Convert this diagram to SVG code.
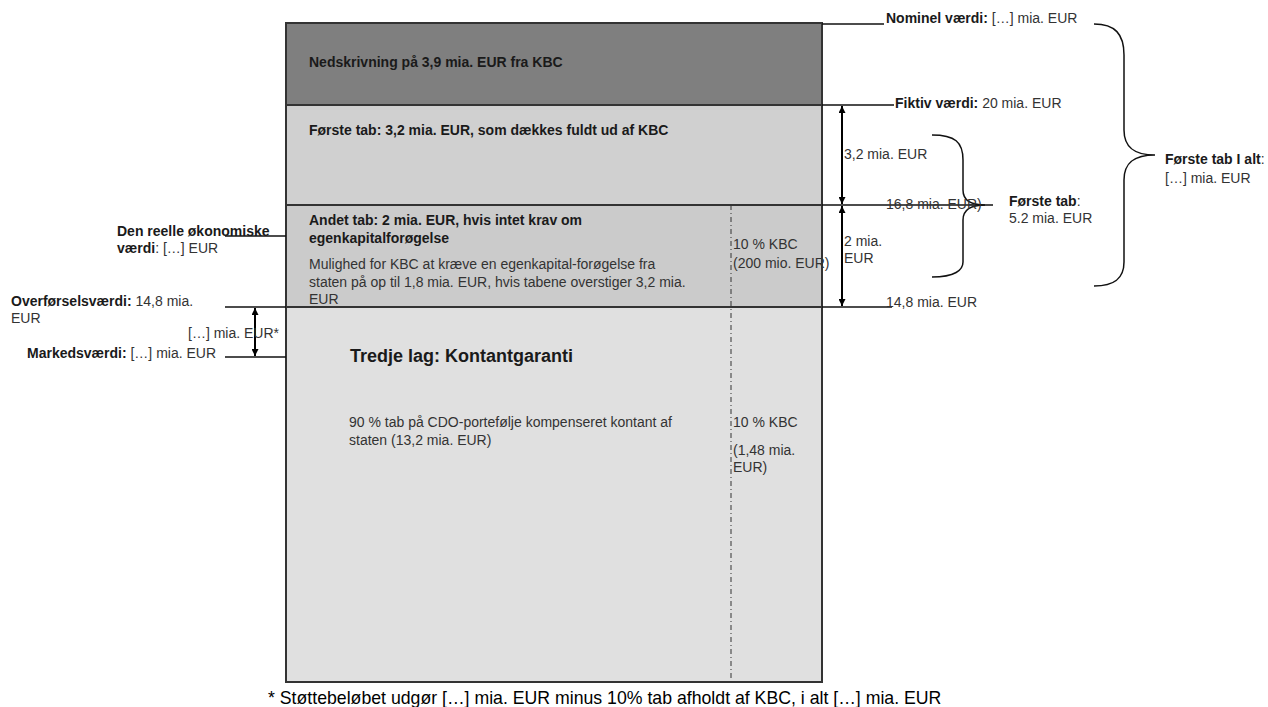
<svg xmlns="http://www.w3.org/2000/svg" width="1268" height="707" viewBox="0 0 1268 707">
<defs>
<style>
text{font-family:"Liberation Sans",Arial,sans-serif;font-size:14px;fill:#1a1a1a}
.b{font-weight:bold}
.n{fill:#333}
.big{font-size:18px;font-weight:bold}
.ln{stroke:#111;stroke-width:1.5;fill:none}
.arr{stroke:#000;stroke-width:2;fill:none;marker-start:url(#ah);marker-end:url(#ah)}
</style>
<marker id="ah" viewBox="0 0 10 10" refX="10" refY="5" markerWidth="7" markerHeight="7" orient="auto-start-reverse" markerUnits="userSpaceOnUse"><path d="M0,0 L10,5 L0,10 z" fill="#000"/></marker>
</defs>
<rect width="1268" height="707" fill="#fff"/>
<g id="layer-nedskrivning">
<rect x="286" y="23" width="536" height="82" fill="#7f7f7f"/>
<text class="b" x="309" y="67">Nedskrivning på 3,9 mia. EUR fra KBC</text>
</g>
<g id="layer-forste">
<rect x="286" y="105" width="536" height="100" fill="#d0d0d0"/>
<text class="b" x="309" y="135">Første tab: 3,2 mia. EUR, som dækkes fuldt ud af KBC</text>
</g>
<g id="layer-andet">
<rect x="286" y="205" width="536" height="102" fill="#cbcbcb"/>
<text class="b" x="309" y="225">Andet tab: 2 mia. EUR, hvis intet krav om</text>
<text class="b" x="309" y="243">egenkapitalforøgelse</text>
<text class="n" x="309" y="269">Mulighed for KBC at kræve en egenkapital-forøgelse fra</text>
<text class="n" x="309" y="287">staten på op til 1,8 mia. EUR, hvis tabene overstiger 3,2 mia.</text>
<text class="n" x="309" y="304">EUR</text>
<text class="n" x="733" y="249">10 % KBC</text>
<text class="n" x="733" y="268">(200 mio. EUR)</text>
</g>
<g id="layer-tredje">
<rect x="286" y="307" width="536" height="375" fill="#e0e0e0"/>
<text class="big" x="350" y="362">Tredje lag: Kontantgaranti</text>
<text class="n" x="349" y="427">90 % tab på CDO-portefølje kompenseret kontant af</text>
<text class="n" x="349" y="445">staten (13,2 mia. EUR)</text>
<text class="n" x="733" y="427">10 % KBC</text>
<text class="n" x="733" y="455">(1,48 mia.</text>
<text class="n" x="733" y="472">EUR)</text>
</g>
<g id="frame">
<rect x="286" y="23" width="536" height="659" fill="none" stroke="#333" stroke-width="2"/>
<line x1="286" y1="105" x2="822" y2="105" stroke="#333" stroke-width="2"/>
<line x1="286" y1="205" x2="822" y2="205" stroke="#333" stroke-width="2"/>
<line x1="286" y1="307" x2="822" y2="307" stroke="#333" stroke-width="2"/>
<line x1="731" y1="205" x2="731" y2="682" stroke="#333" stroke-width="1" stroke-dasharray="5,3,1,3"/>
</g>
<g id="connectors">
<line class="ln" x1="822" y1="24" x2="884" y2="24"/>
<line class="ln" x1="822" y1="105" x2="894" y2="105"/>
<line class="ln" x1="822" y1="205" x2="993" y2="205"/>
<line class="ln" x1="822" y1="307" x2="892" y2="307"/>
<line class="arr" x1="842" y1="106" x2="842" y2="204"/>
<line class="arr" x1="842" y1="206" x2="842" y2="306"/>
<line class="ln" x1="225" y1="236" x2="286" y2="236"/>
<line class="ln" x1="225" y1="307" x2="286" y2="307"/>
<line class="ln" x1="225" y1="357" x2="286" y2="357"/>
<line class="arr" x1="255" y1="308" x2="255" y2="356"/>
<path class="ln" d="M932,135 C955,135 963,142 963,160 L963,190 C963,200 970,205 985,205 C970,205 963,210 963,220 L963,262 C963,270 955,277 932,277"/>
<path class="ln" d="M1094,24 C1115,24 1124,34 1124,55 L1124,130 C1124,148 1135,155 1155,155 C1135,155 1124,162 1124,180 L1124,262 C1124,278 1115,286 1094,286"/>
</g>
<g id="labels-right">
<text x="886" y="23"><tspan class="b">Nominel værdi:</tspan><tspan class="n"> […] mia. EUR</tspan></text>
<text x="895" y="108"><tspan class="b">Fiktiv værdi:</tspan><tspan class="n"> 20 mia. EUR</tspan></text>
<text class="n" x="844" y="159">3,2 mia. EUR</text>
<text class="n" x="886" y="209">16,8 mia. EUR)</text>
<text class="n" x="844" y="246">2 mia.</text>
<text class="n" x="844" y="263">EUR</text>
<text class="n" x="886" y="307">14,8 mia. EUR</text>
<text x="1009" y="206"><tspan class="b">Første tab</tspan><tspan class="n">:</tspan></text>
<text class="n" x="1009" y="223">5.2 mia. EUR</text>
<text x="1165" y="164"><tspan class="b">Første tab I alt</tspan><tspan class="n">:</tspan></text>
<text class="n" x="1165" y="183">[…] mia. EUR</text>
</g>
<g id="labels-left">
<text class="b" x="117" y="236">Den reelle økonomiske</text>
<text x="117" y="253"><tspan class="b">værdi</tspan><tspan class="n">: […] EUR</tspan></text>
<text x="11" y="306"><tspan class="b">Overførselsværdi:</tspan><tspan class="n"> 14,8 mia.</tspan></text>
<text class="n" x="11" y="323">EUR</text>
<text class="n" x="188" y="338">[…] mia. EUR*</text>
<text x="27" y="358"><tspan class="b">Markedsværdi:</tspan><tspan class="n"> […] mia. EUR</tspan></text>
</g>
<text x="268" y="704" style="font-size:17.7px;fill:#000">* Støttebeløbet udgør […] mia. EUR minus 10% tab afholdt af KBC, i alt […] mia. EUR</text>
</svg>
